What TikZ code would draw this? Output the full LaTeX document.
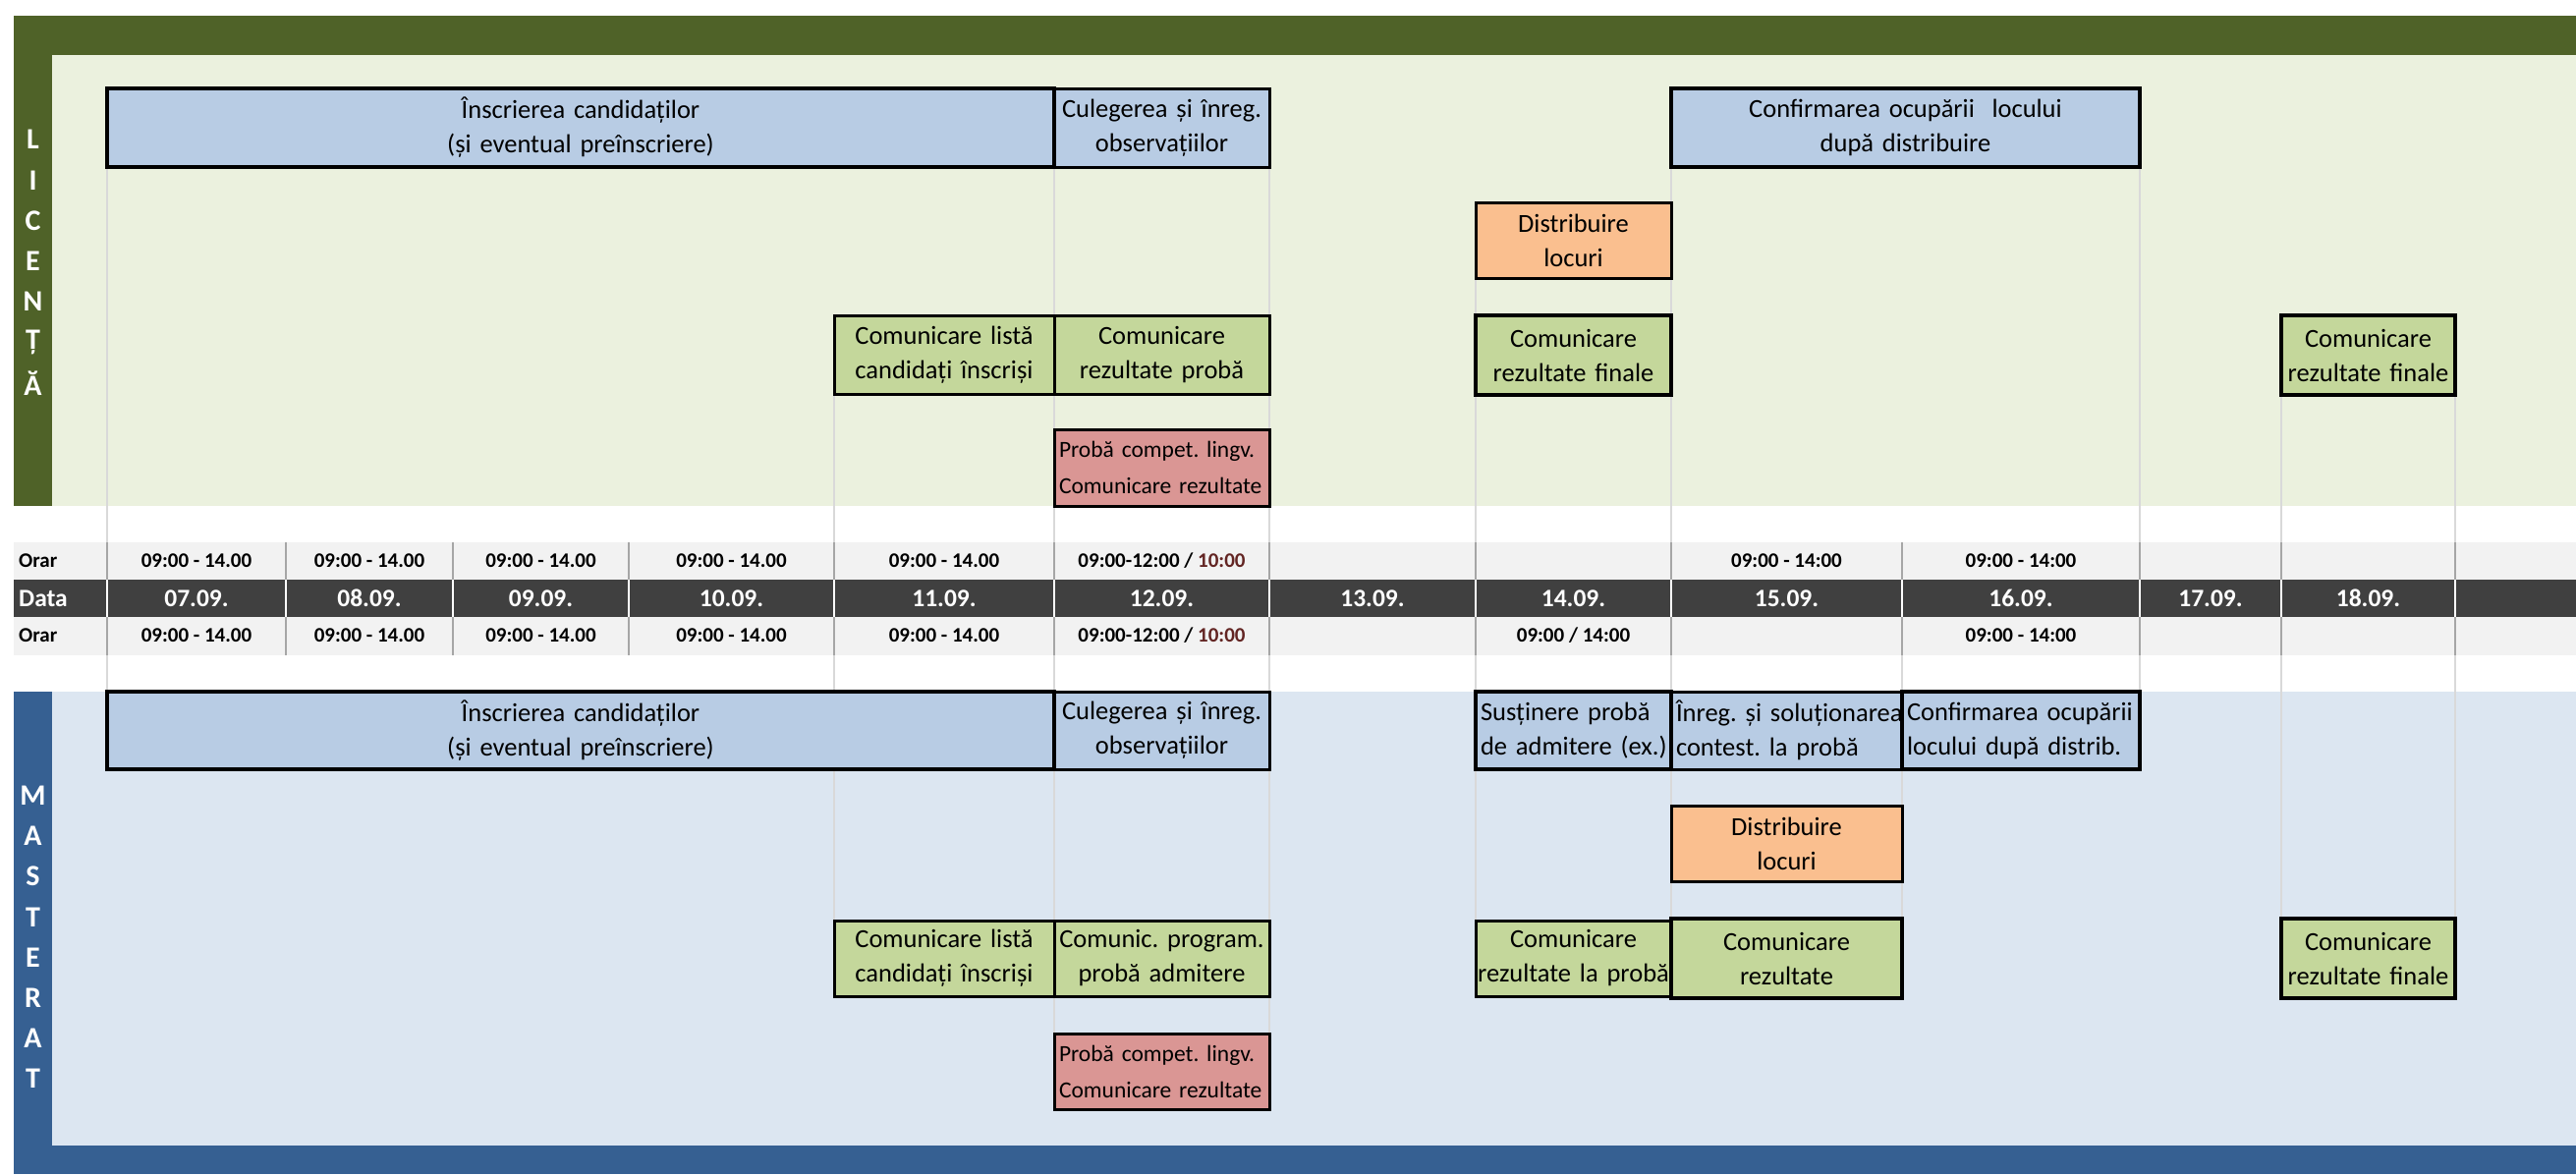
\documentclass[tikz,border=0pt]{standalone}
\usepackage{fontspec}
\setmainfont{Carlito}
\frenchspacing
\definecolor{olive}{HTML}{4F6228}
\definecolor{lgreen}{HTML}{EBF1DE}
\definecolor{dblue}{HTML}{366092}
\definecolor{lblue}{HTML}{DCE6F1}
\definecolor{bxblue}{HTML}{B8CCE4}
\definecolor{bxgreen}{HTML}{C4D79B}
\definecolor{bxorange}{HTML}{FABF8F}
\definecolor{bxred}{HTML}{DA9694}
\definecolor{tgray}{HTML}{F2F2F2}
\definecolor{tdark}{HTML}{404040}
\definecolor{sepgray}{HTML}{A6A6A6}
\definecolor{gridgray}{HTML}{D9D9D9}
\definecolor{dred}{HTML}{632523}
\tikzset{
  box/.style={draw=black, inner ysep=0pt, inner xsep=-20pt, font=\frenchspacing\fontsize{26.5}{35}\selectfont, align=center},
  thk/.style={line width=4.5pt},
  thn/.style={line width=3pt},
  blu/.style={fill=bxblue},
  grn/.style={fill=bxgreen},
  org/.style={fill=bxorange},
  rd/.style={fill=bxred, font=\frenchspacing\fontsize{23.5}{37}\selectfont},
  grid/.style={draw=gridgray, line width=2.5pt},
  sep/.style={draw=sepgray, line width=2pt},
  wsep/.style={draw=white, line width=2pt},
  side/.style={text=white, font=\bfseries\fontsize{30}{30}\selectfont, inner sep=0pt},
  orar/.style={font=\bfseries\fontsize{21}{25}\selectfont, inner sep=0pt},
  datef/.style={text=white, font=\bfseries\fontsize{25.5}{30}\selectfont, inner sep=0pt},
}
% centred box: text may run up to 20pt past each side without wrapping
\newcommand\tbox[7][]{%
  \pgfmathsetmacro\bw{#5-#3}%
  \pgfmathsetmacro\bh{#6-#4}%
  \pgfmathsetmacro\tw{#5-#3+40}%
  \node[box, minimum width=\bw pt, minimum height=\bh pt, text width=\tw pt, #1] (#2) at ({(#3+#5)/2},{(#4+#6)/2}) {#7};}
% left-aligned box: lines start just inside the left border
\newcommand\lbox[7][]{%
  \pgfmathsetmacro\bw{#5-#3}%
  \pgfmathsetmacro\bh{#6-#4}%
  \pgfmathsetmacro\tw{#5-#3-10}%
  \node[box, inner xsep=0pt, align=left, minimum width=\bw pt, minimum height=\bh pt, text width=\tw pt, #1] (#2) at ({(#3+#5)/2},{(#4+#6)/2}) {#7};}
\begin{document}
\begin{tikzpicture}[x=1pt,y=-1pt]
\useasboundingbox (0,0) rectangle (2622,1195);
% backgrounds
\fill[olive] (14,16) rectangle (2622,56);
\fill[olive] (14,56) rectangle (53,515);
\fill[lgreen] (53,56) rectangle (2622,515);
\fill[dblue] (14,704) rectangle (53,1166);
\fill[dblue] (14,1166) rectangle (2622,1195);
\fill[lblue] (53,704) rectangle (2622,1166);
% faint grid lines (upper)
\foreach \x/\a/\b in {109/170/552, 849/401/552, 1073/170/552, 1292/170/552, 1502/205/552, 1701/170/552, 2178/170/552, 2322/402/552, 2499/402/552}
  \draw[grid] (\x,\a) -- (\x,\b);
% faint grid lines (lower)
\foreach \x/\a/\b in {109/667/704, 849/667/937, 1073/667/1052, 1292/667/1052, 1502/667/937, 1701/667/935, 1936/667/935, 2178/667/704, 2322/667/935, 2499/667/935}
  \draw[grid] (\x,\a) -- (\x,\b);
% table
\fill[tgray] (14,552) rectangle (2622,590);
\fill[tdark] (14,590) rectangle (2622,628);
\fill[tgray] (14,628) rectangle (2622,667);
\foreach \x in {109,291,461,640,849,1073,1292,1502,1701,1936,2178,2322,2499} {
  \draw[sep] (\x,552) -- (\x,590);
  \draw[wsep] (\x,590) -- (\x,628);
  \draw[sep] (\x,628) -- (\x,667);
}
\node[orar, anchor=west] (orar1) at (19,571) {Orar};
\node[datef, anchor=west] (data) at (19,609) {Data};
\node[orar, anchor=west] (orar2) at (19,647) {Orar};
\foreach \a/\b/\d [count=\i] in {109/291/07.09., 291/461/08.09., 461/640/09.09., 640/849/10.09., 849/1073/11.09., 1073/1292/12.09., 1292/1502/13.09., 1502/1701/14.09., 1701/1936/15.09., 1936/2178/16.09., 2178/2322/17.09., 2322/2499/18.09.}
  \node[datef] (d\i) at ({(\a+\b)/2},609) {\d};
\foreach \a/\b [count=\i] in {109/291, 291/461, 461/640, 640/849, 849/1073} {
  \node[orar] (ta\i) at ({(\a+\b)/2},571) {09:00 - 14.00};
  \node[orar] (tb\i) at ({(\a+\b)/2},647) {09:00 - 14.00};
}
\node[orar] (ta6) at (1182.5,571) {09:00-12:00 / {\color{dred}10:00}};
\node[orar] (tb6) at (1182.5,647) {09:00-12:00 / {\color{dred}10:00}};
\node[orar] (ta9) at (1818.5,571) {09:00 - 14:00};
\node[orar] (ta10) at (2057,571) {09:00 - 14:00};
\node[orar] (tb8) at (1601.5,647) {09:00 / 14:00};
\node[orar] (tb10) at (2057,647) {09:00 - 14:00};
% side letters
\foreach \l [count=\i from 0] in {L,I,C,E,N,Ț,Ă}
  \node[side] (lic\i) at (33.5,{142+41.3*\i}) {\l};
\foreach \l [count=\i from 0] in {M,A,S,T,E,R,A,T}
  \node[side] (mas\i) at (33.5,{810+41.1*\i}) {\l};
% upper boxes (Licenta)
\tbox[blu,thk]{l1}{109}{90}{1073}{170}{Înscrierea candidaților\\(și eventual preînscriere)}
\tbox[blu,thn]{l2}{1073}{90}{1292}{170}{Culegerea și înreg.\\observațiilor}
\tbox[blu,thk]{l3}{1701}{90}{2178}{170}{Confirmarea ocupării~ locului\\după distribuire}
\tbox[org,thn]{l4}{1502}{206}{1701}{283}{Distribuire\\locuri}
\tbox[grn,thn]{l5}{849}{321}{1073}{401}{Comunicare listă\\candidați înscriși}
\tbox[grn,thn]{l6}{1073}{321}{1292}{401}{Comunicare\\rezultate probă}
\tbox[grn,thk]{l7}{1502}{321}{1701}{402}{Comunicare\\rezultate finale}
\tbox[grn,thk]{l8}{2322}{321}{2499}{402}{Comunicare\\rezultate finale}
\lbox[rd,thn]{l9}{1073}{437}{1292}{515}{\mbox{Probă compet. lingv.}\\\mbox{Comunicare rezultate}}
% lower boxes (Masterat)
\tbox[blu,thk]{m1}{109}{704}{1073}{783}{Înscrierea candidaților\\(și eventual preînscriere)}
\tbox[blu,thn]{m2}{1073}{704}{1292}{783}{Culegerea și înreg.\\observațiilor}
\lbox[blu,thk]{m3}{1502}{704}{1701}{783}{\mbox{Susținere probă}\\\mbox{de admitere (ex.)}}
\lbox[blu,thn]{m4}{1701}{704}{1936}{783}{\mbox{Înreg. și soluționarea}\\\mbox{contest. la probă}}
\lbox[blu,thk]{m5}{1936}{704}{2178}{783}{\mbox{Confirmarea ocupării}\\\mbox{locului după distrib.}}
\tbox[org,thn]{m6}{1701}{820}{1936}{897}{Distribuire\\locuri}
\tbox[grn,thn]{m7}{849}{937}{1073}{1014}{Comunicare listă\\candidați înscriși}
\tbox[grn,thn]{m8}{1073}{937}{1292}{1014}{Comunic. program.\\probă admitere}
\tbox[grn,thn]{m9}{1502}{937}{1701}{1014}{Comunicare\\rezultate la probă}
\tbox[grn,thk]{m10}{1701}{935}{1936}{1016}{Comunicare\\rezultate}
\tbox[grn,thk]{m11}{2322}{935}{2499}{1016}{Comunicare\\rezultate finale}
\lbox[rd,thn]{m12}{1073}{1052}{1292}{1129}{\mbox{Probă compet. lingv.}\\\mbox{Comunicare rezultate}}
\end{tikzpicture}
\end{document}
